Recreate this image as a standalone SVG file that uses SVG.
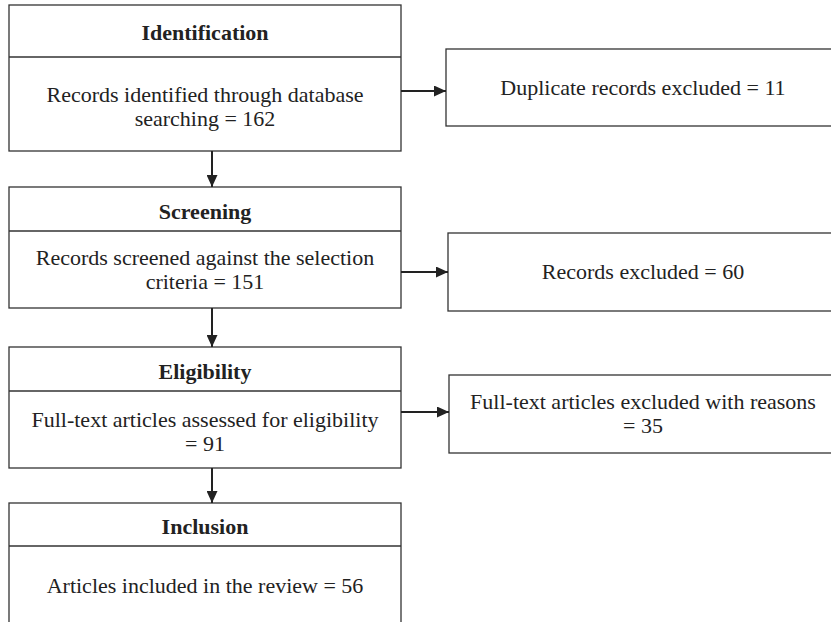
<svg xmlns="http://www.w3.org/2000/svg" width="831" height="622" viewBox="0 0 831 622">
<defs>
<style>
text{font-family:'Liberation Serif','Times New Roman','DejaVu Serif',serif;font-size:22px;fill:#222;text-anchor:middle}
.box{fill:#fff;stroke:#333;stroke-width:1.3}
.div{stroke:#333;stroke-width:1.3}
.h{font-weight:bold}
.c{stroke:#222;stroke-width:2;fill:none}
</style>
<marker id="ah" viewBox="0 0 12 11" refX="12" refY="5.5" markerWidth="12" markerHeight="11" markerUnits="userSpaceOnUse" orient="auto">
<path d="M0,0 L12,5.5 L0,11 Z" fill="#222"/>
</marker>
</defs>
<rect width="831" height="622" fill="#fff"/>
<g id="identification">
<rect class="box" x="9" y="5" width="392" height="146"/>
<line class="div" x1="9" y1="57" x2="401" y2="57"/>
<text class="h" x="205" y="40">Identification</text>
<text x="205" y="102">Records identified through database</text>
<text x="205" y="126">searching = 162</text>
</g>
<g id="duplicates">
<rect class="box" x="446" y="49" width="400" height="77"/>
<text x="643" y="95">Duplicate records excluded = 11</text>
</g>
<g id="screening">
<rect class="box" x="9" y="187" width="392" height="121"/>
<line class="div" x1="9" y1="231" x2="401" y2="231"/>
<text class="h" x="205" y="219">Screening</text>
<text x="205" y="265">Records screened against the selection</text>
<text x="205" y="289">criteria = 151</text>
</g>
<g id="records-excluded">
<rect class="box" x="448" y="233" width="400" height="78"/>
<text x="643" y="279">Records excluded = 60</text>
</g>
<g id="eligibility">
<rect class="box" x="9" y="347" width="392" height="121"/>
<line class="div" x1="9" y1="391" x2="401" y2="391"/>
<text class="h" x="205" y="379">Eligibility</text>
<text x="205" y="427">Full-text articles assessed for eligibility</text>
<text x="205" y="451">= 91</text>
</g>
<g id="fulltext-excluded">
<rect class="box" x="449" y="375" width="400" height="78"/>
<text x="643" y="409">Full-text articles excluded with reasons</text>
<text x="643" y="433">= 35</text>
</g>
<g id="inclusion">
<rect class="box" x="9" y="503" width="392" height="140"/>
<line class="div" x1="9" y1="546" x2="401" y2="546"/>
<text class="h" x="205" y="534">Inclusion</text>
<text x="205" y="593">Articles included in the review = 56</text>
</g>
<g id="connectors">
<line class="c" x1="212" y1="151" x2="212" y2="187" marker-end="url(#ah)"/>
<line class="c" x1="212" y1="308" x2="212" y2="347" marker-end="url(#ah)"/>
<line class="c" x1="212" y1="468" x2="212" y2="503" marker-end="url(#ah)"/>
<line class="c" x1="401" y1="91" x2="446" y2="91" marker-end="url(#ah)"/>
<line class="c" x1="401" y1="272" x2="448" y2="272" marker-end="url(#ah)"/>
<line class="c" x1="401" y1="412" x2="449" y2="412" marker-end="url(#ah)"/>
</g>
</svg>
